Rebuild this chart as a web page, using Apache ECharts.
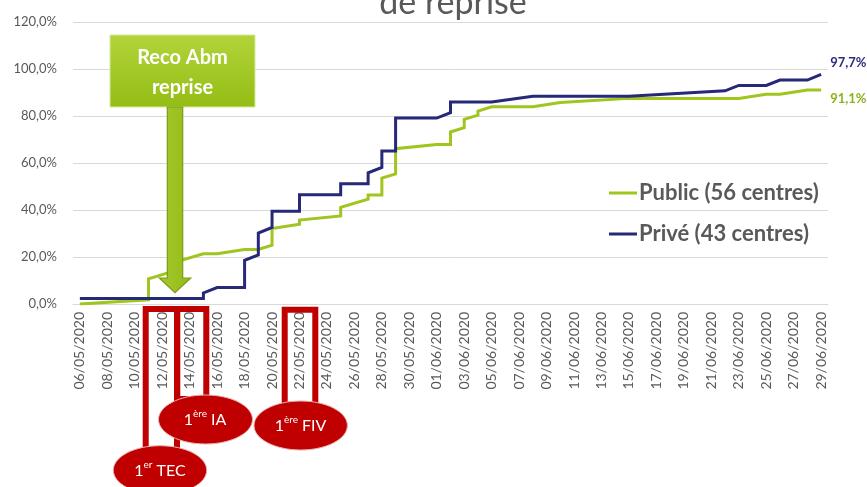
<!DOCTYPE html>
<html><head><meta charset="utf-8">
<script src="https://cdn.jsdelivr.net/npm/echarts@6/dist/echarts.min.js"></script>
<style>html,body{margin:0;padding:0;background:#fff}#c{width:867px;height:487px}</style>
</head><body><div id="c"></div>
<script>
const dayLabels = [
'06/05/2020','07/05/2020','08/05/2020','09/05/2020','10/05/2020','11/05/2020','12/05/2020','13/05/2020',
'14/05/2020','15/05/2020','16/05/2020','17/05/2020','18/05/2020','19/05/2020','20/05/2020','21/05/2020',
'22/05/2020','23/05/2020','24/05/2020','25/05/2020','26/05/2020','27/05/2020','28/05/2020','29/05/2020',
'30/05/2020','31/05/2020','01/06/2020','02/06/2020','03/06/2020','04/06/2020','05/06/2020','06/06/2020',
'07/06/2020','08/06/2020','09/06/2020','10/06/2020','11/06/2020','12/06/2020','13/06/2020','14/06/2020',
'15/06/2020','16/06/2020','17/06/2020','18/06/2020','19/06/2020','20/06/2020','21/06/2020','22/06/2020',
'23/06/2020','24/06/2020','25/06/2020','26/06/2020','27/06/2020','28/06/2020','29/06/2020'];

const seriesNames = ['Public (56 centres)', 'Privé (43 centres)'];

// Public: day index (into dayLabels) and cumulative % of centres restarted
const publicDays   = [0,5,5,7,7,9,10,12,13,14,14,16,16,19,19,21,21,22,22,23,23,26,27,27,28,28,29,29,30,33,35,40,48,50,51,53,54];
const publicValues = [0,1.8,10.7,14.3,17.9,21.4,21.4,23.2,23.2,25.0,32.1,33.9,35.7,37.5,41.1,44.6,46.4,46.4,53.6,55.4,66.1,67.9,67.9,73.2,75.0,78.6,80.4,82.1,83.9,83.9,85.7,87.5,87.5,89.3,89.3,91.1,91.1];

// Privé
const priveDays   = [0,9,9,10,12,12,13,13,14,14,16,16,19,19,21,21,22,22,23,23,26,27,27,30,33,40,47,48,50,51,53,54];
const priveValues = [2.3,2.3,4.7,7.0,7.0,18.6,20.9,30.2,32.6,39.5,39.5,46.5,46.5,51.2,51.2,55.8,58.1,65.1,65.1,79.1,79.1,81.4,86.0,86.0,88.4,88.4,90.7,93.0,93.0,95.3,95.3,97.7];

const yTicks = {min: 0, max: 120, interval: 20};

const GREEN = '#9fc51e', NAVY = '#262878', GRAY = '#595959', RED = '#c00000';
const FONT = 'Lato';
const pct = v => v.toFixed(1).replace('.', ',') + '%';

const chart = echarts.init(document.getElementById('c'), null, {renderer: 'canvas'});

function ann(cx, cy, a, b, c) {
  return {
    type: 'text', z: 120,
    style: {
      x: cx, y: cy, align: 'center', verticalAlign: 'middle',
      text: '{n|' + a + '}{s|' + b + '}{n| ' + c + '}',
      rich: {
        n: {fontSize: 16, fill: '#fff', fontFamily: FONT, lineHeight: 22},
        s: {fontSize: 10, fill: '#fff', fontFamily: FONT, lineHeight: 10, verticalAlign: 'top'}
      }
    }
  };
}

chart.setOption({
  animation: false,
  grid: {left: 73, right: 39, top: 22, bottom: 183, containLabel: false, outerBoundsMode: 'none'},
  legend: {
    data: seriesNames, orient: 'vertical', left: 604, top: 177,
    icon: 'rect', itemWidth: 28, itemHeight: 3, itemGap: 19,
    textStyle: {color: GRAY, fontSize: 22, fontWeight: 'bold', fontFamily: FONT, padding: [0, 0, 0, -3]}
  },
  xAxis: {
    type: 'category', data: dayLabels, boundaryGap: true,
    axisTick: {show: false},
    axisLine: {show: true, lineStyle: {color: '#d9d9d9'}},
    axisLabel: {interval: 1, rotate: 90, color: GRAY, fontSize: 14, fontFamily: FONT, margin: 8},
    splitLine: {show: false}
  },
  yAxis: {
    type: 'value', min: yTicks.min, max: yTicks.max, interval: yTicks.interval,
    axisLine: {show: false}, axisTick: {show: false},
    axisLabel: {color: GRAY, fontSize: 13, fontFamily: FONT, margin: 16, formatter: pct},
    splitLine: {lineStyle: {color: '#d9d9d9', width: 1}}
  },
  series: [
    {
      name: seriesNames[0], type: 'line', symbol: 'none', color: GREEN,
      lineStyle: {width: 3, color: GREEN, join: 'miter'},
      data: publicDays.map((d, i) => [d, publicValues[i]]),
      endLabel: {show: true, formatter: p => pct(p.value[1]), color: '#8db31a', fontWeight: 'bold', fontSize: 13, fontFamily: FONT, distance: 9, offset: [0, 9]}
    },
    {
      name: seriesNames[1], type: 'line', symbol: 'none', color: NAVY,
      lineStyle: {width: 3, color: NAVY, join: 'miter'},
      data: priveDays.map((d, i) => [d, priveValues[i]]),
      endLabel: {show: true, formatter: p => pct(p.value[1]), color: '#2b2d7c', fontWeight: 'bold', fontSize: 13, fontFamily: FONT, distance: 9, offset: [0, -12]}
    }
  ],
  graphic: [
    {type: 'text', z: 100, style: {x: 453, y: 3, align: 'center', verticalAlign: 'middle', text: 'de reprise', fill: GRAY, fontSize: 34, fontFamily: FONT}},
    // Reco box
    {type: 'rect', z: 100, shape: {x: 110, y: 35, width: 145, height: 72},
      style: {fill: new echarts.graphic.LinearGradient(0, 0, 0, 1, [{offset: 0, color: '#b2d43a'}, {offset: 1, color: '#94bd14'}]), stroke: '#d7e8a0', lineWidth: 1}},
    {type: 'text', z: 101, style: {x: 182.5, y: 73, align: 'center', verticalAlign: 'middle', text: 'Reco Abm\nreprise', fill: '#fff', fontSize: 20, fontWeight: 'bold', fontFamily: FONT, lineHeight: 30}},
    {type: 'polygon', z: 100, shape: {points: [[167.3,107],[182.7,107],[182.7,278],[190.7,278],[175,292.7],[159.3,278],[167.3,278]]},
      style: {fill: new echarts.graphic.LinearGradient(0, 0, 1, 0, [{offset: 0, color: '#a4c82a'}, {offset: 1, color: '#95bb1a'}]), stroke: '#7e9b16', lineWidth: 1.2}},
    // red frames
    {type: 'rect', z: 110, shape: {x: 145.7, y: 309, width: 31.3, height: 150}, style: {fill: 'none', stroke: RED, lineWidth: 6}},
    {type: 'rect', z: 110, shape: {x: 177.3, y: 309, width: 29, height: 90}, style: {fill: 'none', stroke: RED, lineWidth: 6}},
    {type: 'rect', z: 110, shape: {x: 284.7, y: 309.7, width: 30.6, height: 95}, style: {fill: 'none', stroke: RED, lineWidth: 6}},
    {type: 'ellipse', z: 115, shape: {cx: 205.5, cy: 419.5, rx: 47, ry: 24.5}, style: {fill: RED, stroke: '#e8b0b0', lineWidth: 1}},
    {type: 'ellipse', z: 115, shape: {cx: 300.7, cy: 425.5, rx: 46.7, ry: 24.5}, style: {fill: RED, stroke: '#e8b0b0', lineWidth: 1}},
    {type: 'ellipse', z: 115, shape: {cx: 160, cy: 470.2, rx: 46.7, ry: 24.5}, style: {fill: RED, stroke: '#e8b0b0', lineWidth: 1}},
    ann(205, 420, '1', 'ère', 'IA'),
    ann(300.5, 426, '1', 'ère', 'FIV'),
    ann(160, 471, '1', 'er', 'TEC')
  ]
});
</script></body></html>
